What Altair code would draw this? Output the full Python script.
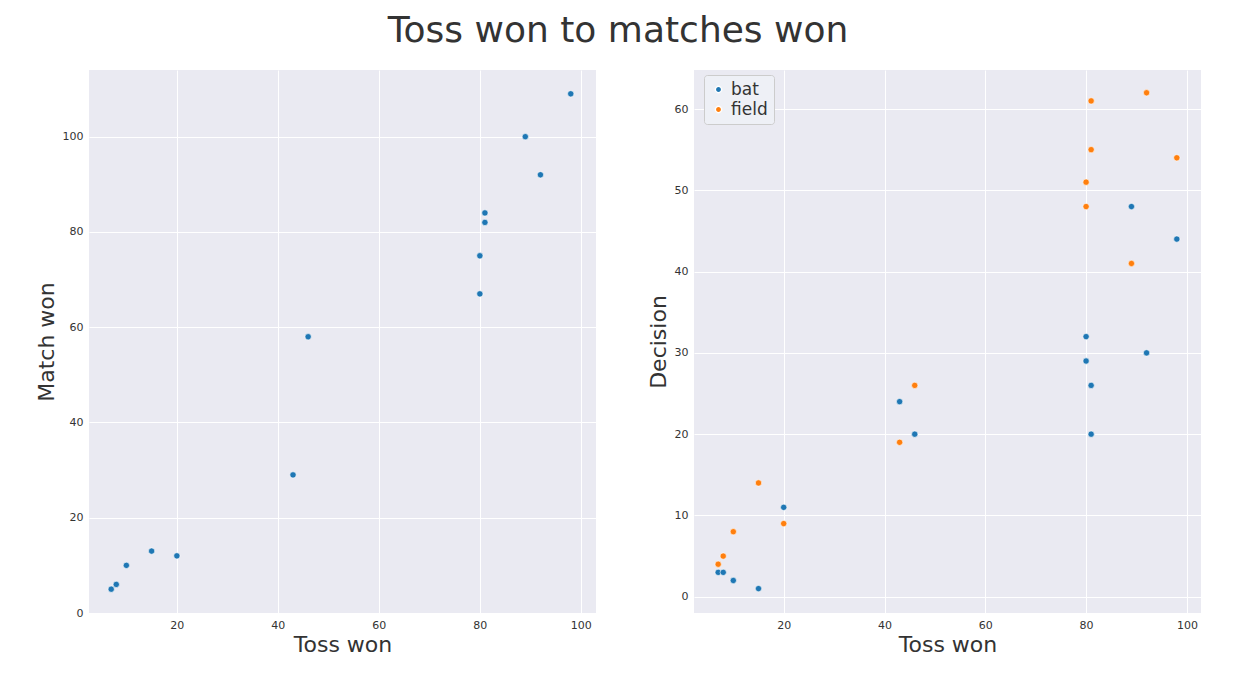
import altair as alt
import pandas as pd

toss_left = [7, 8, 10, 15, 20, 43, 46, 80, 80, 81, 81, 89, 92, 98]
match_won = [5, 6, 10, 13, 12, 29, 58, 67, 75, 82, 84, 100, 92, 109]

bat_toss = [7, 8, 10, 15, 20, 43, 46, 80, 80, 81, 81, 89, 92, 98]
bat_val = [3, 3, 2, 1, 11, 24, 20, 32, 29, 26, 20, 48, 30, 44]
field_toss = [7, 8, 10, 15, 20, 43, 46, 80, 80, 81, 81, 89, 92, 98]
field_val = [4, 5, 8, 14, 9, 19, 26, 48, 51, 55, 61, 41, 62, 54]

df_left = pd.DataFrame({"toss": toss_left, "won": match_won})
df_right = pd.concat([
    pd.DataFrame({"toss": bat_toss, "val": bat_val, "decision": "bat"}),
    pd.DataFrame({"toss": field_toss, "val": field_val, "decision": "field"}),
])

W, H = 507, 543
BG = "#EAEAF2"
ax = dict(grid=True, gridColor="white", domain=False, ticks=False, labelFontSize=11,
          labelColor="#333", titleFontSize=22, titleFontWeight="normal", titleColor="#333",
          labelPadding=6)
view = alt.ViewConfig(fill=BG, stroke=None)

left = alt.Chart(df_left).mark_circle(size=40, color="#1f77b4", opacity=1,
                                      stroke="white", strokeWidth=0.6).encode(
    x=alt.X("toss:Q", title="Toss won", scale=alt.Scale(domain=[2.6, 103], nice=False, zero=False),
            axis=alt.Axis(values=[20, 40, 60, 80, 100], **ax)),
    y=alt.Y("won:Q", title="Match won", scale=alt.Scale(domain=[0, 114], nice=False),
            axis=alt.Axis(values=[0, 20, 40, 60, 80, 100], **ax)),
).properties(width=W, height=H, view=view)

right = alt.Chart(df_right).mark_circle(size=40, opacity=1, stroke="white", strokeWidth=0.6).encode(
    x=alt.X("toss:Q", title="Toss won", scale=alt.Scale(domain=[2.2, 102.8], nice=False, zero=False),
            axis=alt.Axis(values=[20, 40, 60, 80, 100], **ax)),
    y=alt.Y("val:Q", title="Decision", scale=alt.Scale(domain=[-2, 64.8], nice=False, zero=False),
            axis=alt.Axis(values=[0, 10, 20, 30, 40, 50, 60], **ax)),
    color=alt.Color("decision:N", scale=alt.Scale(domain=["bat", "field"], range=["#1f77b4", "#ff7f0e"]),
                    legend=alt.Legend(title=None, orient="none", legendX=615, legendY=5, labelFontSize=17,
                                      labelColor="#333", symbolSize=40, fillColor="#eef0f6",
                                      strokeColor="#cccccc", padding=6, cornerRadius=3)),
).properties(width=W, height=H, view=view)

chart = alt.hconcat(left, right, spacing=51).properties(
    padding={"left": 27, "right": 5, "top": 5, "bottom": 5},
    title=alt.TitleParams("Toss won to matches won", fontSize=36, fontWeight="normal",
                          color="#333", anchor="middle", font="DejaVu Sans", offset=20)
).configure_view(fill=BG, stroke=None).configure(font="DejaVu Sans")

chart.save("out.html", embed_options={"renderer": "svg", "actions": False})
